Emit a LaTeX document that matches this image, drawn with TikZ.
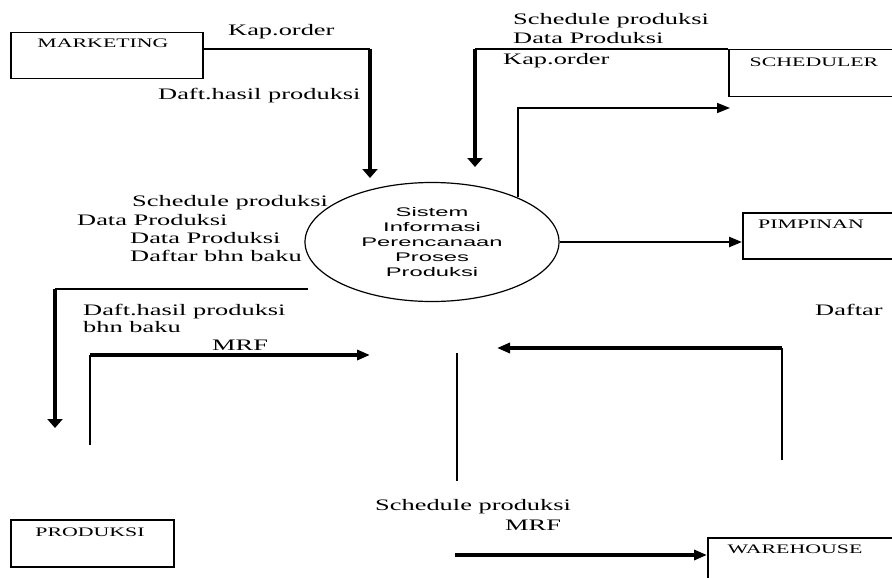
\documentclass[tikz,border=0pt]{standalone}
\usepackage{fontspec}
\usetikzlibrary{arrows.meta,shapes.geometric}
% wide faces for flow labels, entity names and the process bubble
\newfontfamily\flowfont[FakeStretch=1.65]{Liberation Serif}
\newfontfamily\entityfont[FakeStretch=1.68]{Liberation Serif}
\newfontfamily\procfont[FakeStretch=1.9]{Liberation Sans}

\begin{document}
\begin{tikzpicture}[x=1pt,y=-1pt,
  flow/.style={font=\flowfont\fontsize{16}{18}\selectfont, anchor=mid west, inner sep=0pt},
  entity/.style={draw, line width=1.5pt, rectangle, anchor=north west, inner sep=0pt},
  enttext/.style={font=\entityfont\fontsize{13}{15}\selectfont, inner sep=0pt},
  proc/.style={draw, ellipse, line width=1.2pt, align=center, inner sep=0pt,
    font=\procfont\fontsize{12.5}{15}\selectfont},
  thinline/.style={line width=1.7pt},
  midline/.style={line width=2.4pt},
  thickline/.style={line width=3.6pt},
  vhead/.style={-{Triangle[length=9pt,width=15pt]}},
  hhead/.style={-{Triangle[length=13pt,width=10pt]}},
]
\useasboundingbox (0,0) rectangle (892,578);
\clip (0,0) rectangle (892,578);

% external entities
\node[entity, minimum width=192pt, minimum height=46pt] (mkt) at (10,32) {};
\node[enttext] (mktT) at (103,43) {MARKETING};
\node[entity, minimum width=180pt, minimum height=47pt] (sch) at (728,49) {};
\node[enttext] (schT) at (814,62) {SCHEDULER};
\node[entity, minimum width=170pt, minimum height=46pt] (pim) at (742,212) {};
\node[enttext] (pimT) at (811,224) {PIMPINAN};
\node[entity, minimum width=163pt, minimum height=47pt] (prd) at (10,519) {};
\node[enttext] (prdT) at (90,532) {PRODUKSI};
\node[entity, minimum width=200pt, minimum height=60pt] (wh) at (707,537) {};
\node[enttext] (whT) at (795,549) {WAREHOUSE};

% the process
\node[proc, minimum width=254pt, minimum height=119pt] (sys) at (432,242)
  {Sistem\\Informasi\\Perencanaan\\Proses\\Produksi};

% MARKETING -> process
\coordinate (m1) at (370,49);
\coordinate (m2) at (370,178);
\draw[thinline] (mkt.east |- m1) -- (m1);
\draw[thickline, vhead] (m1) -- (m2);

% SCHEDULER -> process
\coordinate (s1) at (475,49);
\coordinate (s2) at (475,167);
\draw[thinline] (sch.north west) -- (s1);
\draw[thickline, vhead] (s1) -- (s2);

% process -> SCHEDULER
\coordinate (r0) at (518,197);
\coordinate (r1) at (518,108);
\coordinate (r2) at (730,108);
\draw[thinline, hhead] (r0) -- (r1) -- (r2);

% process -> PIMPINAN
\draw[midline, hhead] (sys.east) -- (sys.east -| pim.west);

% process -> PRODUKSI
\coordinate (p0) at (308,289);
\coordinate (p1) at (55,289);
\coordinate (p2) at (55,428);
\draw[thinline] (p0) -- (p1);
\draw[thickline, vhead] (p1) -- (p2);

% PRODUKSI -> process
\coordinate (q0) at (90,445);
\coordinate (q1) at (90,355);
\coordinate (q2) at (370,355);
\draw[thinline] (q0) -- (q1);
\draw[thickline, hhead] (q1) -- (q2);

% WAREHOUSE -> process
\coordinate (w0) at (782,460);
\coordinate (w1) at (782,348);
\coordinate (w2) at (497,348);
\draw[thinline] (w0) -- (w1);
\draw[thickline, hhead] (w1) -- (w2);

% process -> WAREHOUSE
\coordinate (v0) at (457,353);
\coordinate (v1) at (457,481);
\draw[thinline] (v0) -- (v1);
\coordinate (v2) at (455,555);
\draw[thickline, hhead] (v2) -- (wh.west |- v2);

% data flow labels
\node[flow] (l1) at (228,33) {Kap.order};
\node[flow] (l2) at (158,97) {Daft.hasil produksi};
\node[flow] (l3) at (513,22) {Schedule produksi};
\node[flow] (l4) at (513,41) {Data Produksi};
\node[flow] (l5) at (503,62) {Kap.order};
\node[flow] (l6) at (132,204) {Schedule produksi};
\node[flow] (l7) at (77,223) {Data Produksi};
\node[flow] (l8) at (130,241) {Data Produksi};
\node[flow] (l9) at (130,259) {Daftar bhn baku};
\node[flow] (l10) at (83,313) {Daft.hasil produksi};
\node[flow] (l11) at (83,330) {bhn baku};
\node[flow] (l12) at (212,348) {MRF};
\node[flow] (l13) at (815,313) {Daftar};
\node[flow] (l14) at (375,508) {Schedule produksi};
\node[flow] (l15) at (505,528) {MRF};
\end{tikzpicture}
\end{document}
